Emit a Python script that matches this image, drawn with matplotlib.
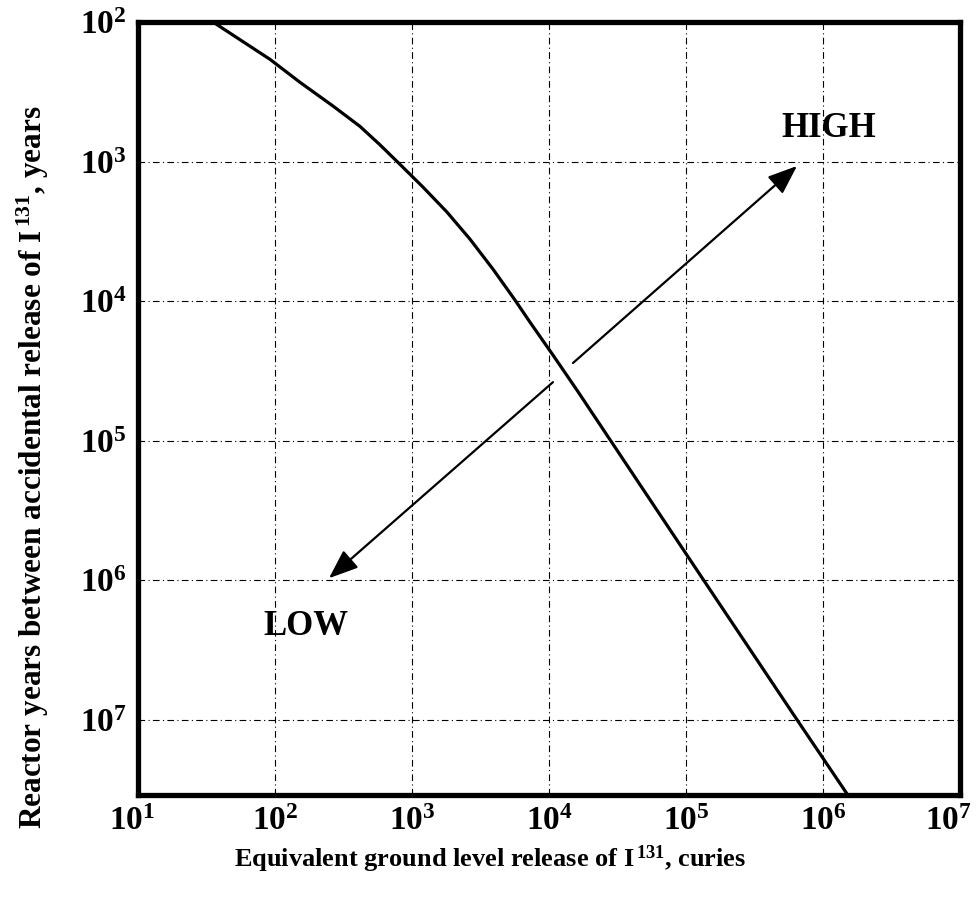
import numpy as np
import matplotlib
matplotlib.use('Agg')
import matplotlib.pyplot as plt
import matplotlib.transforms as mtransforms
from matplotlib.ticker import FixedLocator, FixedFormatter

plt.rcParams['font.family'] = ['Liberation Serif', 'DejaVu Serif']
plt.rcParams['font.weight'] = 'bold'
plt.rcParams['mathtext.fontset'] = 'custom'
plt.rcParams['mathtext.rm'] = 'Liberation Serif:bold'
plt.rcParams['mathtext.bf'] = 'Liberation Serif:bold'
plt.rcParams['mathtext.it'] = 'Liberation Serif:bold'

# curve (log10 of release in curies, log10 of reactor years)
curve_logx = [1.547, 1.964, 2.182, 2.423, 2.620, 2.766, 2.912, 3.080, 3.255, 3.423, 3.591,
              3.752, 3.861, 4.029, 4.204, 4.832, 5.124, 5.832, 6.182]
curve_logy = [2.000, 2.268, 2.432, 2.602, 2.748, 2.880, 3.020, 3.183, 3.362, 3.556, 3.771,
              3.993, 4.151, 4.387, 4.638, 5.563, 5.993, 7.032, 7.541]

# arrows: (tail, tip) in log10 coords
low_arrow = [(4.029, 4.581), (2.394, 5.986)]
high_arrow = [(4.175, 4.444), (5.810, 3.032)]
labels_pos = {'HIGH': (6.044, 2.760), 'LOW': (2.226, 6.330)}

x_decades = [1, 2, 3, 4, 5, 6, 7]
y_decades = [2, 3, 4, 5, 6, 7]

fig = plt.figure(figsize=(9.76, 9.05), dpi=100)
ax = fig.add_axes([0.1414, 0.1215, 0.8422, 0.8542])

ax.set_xscale('log')
ax.set_yscale('log')
ax.plot(10.0 ** np.array(curve_logx), 10.0 ** np.array(curve_logy), color='k', lw=2.3,
        solid_capstyle='butt', solid_joinstyle='round', zorder=3)

ax.set_xlim(10 ** 1, 10 ** 7)
ax.set_ylim(10 ** 7.54, 10 ** 2)

ax.xaxis.set_major_locator(FixedLocator([10.0 ** d for d in x_decades]))
ax.xaxis.set_major_formatter(FixedFormatter([r'$\mathbf{10^{%d}}$' % d for d in x_decades]))
ax.yaxis.set_major_locator(FixedLocator([10.0 ** d for d in y_decades]))
ax.yaxis.set_major_formatter(FixedFormatter([r'$\mathbf{10^{%d}}$' % d for d in y_decades]))
ax.xaxis.set_minor_locator(FixedLocator([]))
ax.yaxis.set_minor_locator(FixedLocator([]))
ax.tick_params(axis='both', length=0, labelsize=24)
ax.tick_params(axis='x', pad=8)
ax.tick_params(axis='y', pad=8)

ax.grid(True, which='major', color='k', linestyle='-.', lw=0.8, dashes=(6, 3, 1, 3))

for sp in ax.spines.values():
    sp.set_linewidth(3.8)

for (t, h) in [low_arrow, high_arrow]:
    ax.annotate('', xy=(10 ** h[0], 10 ** h[1]), xytext=(10 ** t[0], 10 ** t[1]),
                arrowprops=dict(arrowstyle='-|>,head_length=0.9,head_width=0.35',
                                color='k', lw=1.6, mutation_scale=20, shrinkA=0, shrinkB=0),
                zorder=4)

for txt, (lx, ly) in labels_pos.items():
    ax.text(10 ** lx, 10 ** ly, txt, fontsize=25, fontweight='bold', ha='center', va='center', zorder=5)

ax.set_xlabel(r'Equivalent ground level release of I$^{\,131}$, curies', fontsize=19,
              fontweight='bold')
ax.set_ylabel(r'Reactor years between accidental release of I$^{\,131}$, years', fontsize=22.5,
              fontweight='bold')
ax.xaxis.set_label_coords(0.428, -0.063)
ax.yaxis.set_label_coords(-0.106, 0.424)

# pull the outer x tick labels slightly inward, as in the original
xt = ax.xaxis.get_major_ticks()
xt[-1].label1.set_transform(xt[-1].label1.get_transform() +
                            mtransforms.ScaledTranslation(-0.12, 0, fig.dpi_scale_trans))
xt[0].label1.set_transform(xt[0].label1.get_transform() +
                           mtransforms.ScaledTranslation(-0.06, 0, fig.dpi_scale_trans))

fig.savefig('out.png', dpi=100)
